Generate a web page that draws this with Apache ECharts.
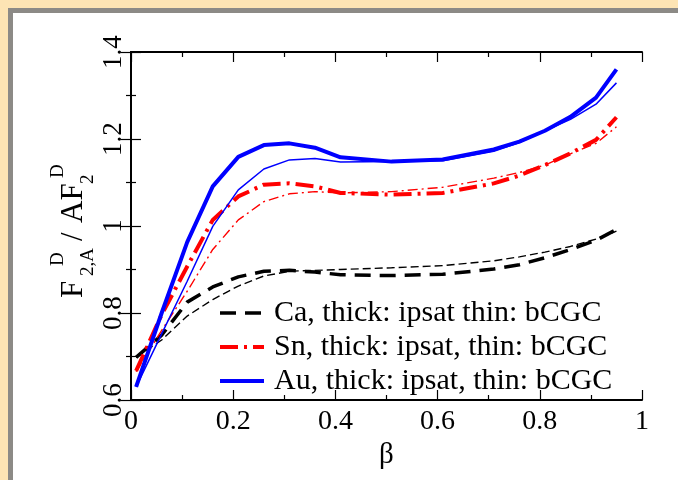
<!DOCTYPE html>
<html>
<head>
<meta charset="utf-8">
<script src="https://cdn.jsdelivr.net/npm/echarts@6/dist/echarts.min.js"></script>
<style>
html,body{margin:0;padding:0;background:#FDE4B4;}
#chart{width:678px;height:480px;}
</style>
</head>
<body>
<div id="chart"></div>
<script>
// beta sample points
const beta = [0.01, 0.06, 0.11, 0.16, 0.21, 0.26, 0.31, 0.36, 0.41, 0.51, 0.61, 0.71, 0.76, 0.81, 0.86, 0.91, 0.95];
// Ca
const caIpsat = [0.698, 0.749, 0.825, 0.860, 0.883, 0.896, 0.898, 0.894, 0.888, 0.886, 0.889, 0.901, 0.911, 0.927, 0.946, 0.967, 0.992];
const caBCGC  = [0.698, 0.738, 0.793, 0.831, 0.862, 0.885, 0.896, 0.898, 0.900, 0.904, 0.909, 0.920, 0.929, 0.940, 0.953, 0.970, 0.988];
// Sn
const snIpsat = [0.667, 0.796, 0.907, 1.014, 1.068, 1.095, 1.098, 1.091, 1.076, 1.072, 1.076, 1.098, 1.116, 1.140, 1.167, 1.198, 1.250];
const snBCGC  = [0.665, 0.760, 0.850, 0.946, 1.014, 1.056, 1.074, 1.079, 1.076, 1.079, 1.089, 1.110, 1.123, 1.140, 1.166, 1.190, 1.228];
// Au
const auIpsat = [0.630, 0.800, 0.963, 1.091, 1.159, 1.186, 1.190, 1.180, 1.158, 1.148, 1.153, 1.176, 1.194, 1.219, 1.251, 1.295, 1.360];
const auBCGC  = [0.630, 0.752, 0.873, 0.999, 1.083, 1.131, 1.152, 1.155, 1.147, 1.148, 1.150, 1.172, 1.192, 1.219, 1.245, 1.280, 1.329];

const legendNames = ['Ca, thick: ipsat thin: bCGC', 'Sn, thick: ipsat, thin: bCGC', 'Au, thick: ipsat, thin: bCGC'];

const SERIF = "'Liberation Serif','DejaVu Serif',serif";
const pairs = ys => beta.map((b, i) => [b, ys[i]]);

function line(name, ys, color, width, type) {
  return {
    name: name, type: 'line', data: pairs(ys), symbol: 'none', smooth: false,
    lineStyle: {color: color, width: width, type: type},
    itemStyle: {color: color},
    emphasis: {disabled: true}, silent: true, animation: false
  };
}

function axisStyle() {
  return {
    axisLine: {lineStyle: {color: '#000', width: 2}},
    axisTick: {show: true, inside: true, length: 10, lineStyle: {color: '#000', width: 1.2}},
    minorTick: {show: true, splitNumber: 2, length: 5, lineStyle: {color: '#000', width: 1.2}},
    splitLine: {show: false},
    minorSplitLine: {show: false}
  };
}

const chart = echarts.init(document.getElementById('chart'), null, {renderer: 'canvas'});
chart.setOption({
  backgroundColor: '#FDE4B4',
  animation: false,
  grid: {left: 131, right: 36, top: 52, bottom: 80},
  xAxis: [
    Object.assign(axisStyle(), {
      type: 'value', min: 0, max: 1, interval: 0.2, position: 'bottom',
      name: 'β', nameLocation: 'middle', nameGap: 27,
      nameTextStyle: {fontFamily: SERIF, fontSize: 29, color: '#000'},
      axisLabel: {fontFamily: SERIF, fontSize: 28, color: '#000', margin: 8}
    }),
    Object.assign(axisStyle(), {
      type: 'value', min: 0, max: 1, interval: 0.2, position: 'top',
      axisLabel: {show: false}
    })
  ],
  yAxis: [
    Object.assign(axisStyle(), {
      type: 'value', min: 0.6, max: 1.4, interval: 0.2, position: 'left',
      axisLabel: {fontFamily: SERIF, fontSize: 27, color: '#000', rotate: 90, margin: 4}
    }),
    Object.assign(axisStyle(), {
      type: 'value', min: 0.6, max: 1.4, interval: 0.2, position: 'right',
      axisLabel: {show: false}
    })
  ],
  legend: {
    data: legendNames,
    orient: 'vertical',
    left: 218, top: 298,
    padding: 0,
    itemWidth: 44, itemHeight: 14, itemGap: 4,
    itemStyle: {opacity: 0},
    lineStyle: {width: 'inherit', type: 'inherit'},
    textStyle: {fontFamily: SERIF, fontSize: 30, color: '#000', padding: [0, 0, 0, 5], lineHeight: 28},
    selectedMode: false
  },
  graphic: [
    {type: 'rect', z: -10, silent: true, shape: {x: 8, y: 8, width: 700, height: 500}, style: {fill: '#8C8A86'}},
    {type: 'rect', z: -9, silent: true, shape: {x: 13, y: 13, width: 700, height: 500}, style: {fill: '#FFFFFF'}},
    {
      type: 'group', x: 85, y: 298, rotation: Math.PI / 2, silent: true,
      children: [
        {type: 'text', x: 0, y: -11, style: {text: 'F', fontFamily: SERIF, fontSize: 31, fill: '#000', align: 'left', verticalAlign: 'middle'}},
        {type: 'text', x: 22, y: 3, style: {text: '2,A', fontFamily: SERIF, fontSize: 19, fill: '#000', align: 'left', verticalAlign: 'middle'}},
        {type: 'text', x: 32, y: -27, style: {text: 'D', fontFamily: SERIF, fontSize: 19, fill: '#000', align: 'left', verticalAlign: 'middle'}},
        {type: 'text', x: 57, y: -11, style: {text: '/', fontFamily: SERIF, fontSize: 31, fill: '#000', align: 'left', verticalAlign: 'middle'}},
        {type: 'text', x: 75, y: -11, style: {text: 'AF', fontFamily: SERIF, fontSize: 31, fill: '#000', align: 'left', verticalAlign: 'middle'}},
        {type: 'text', x: 114, y: 3, style: {text: '2', fontFamily: SERIF, fontSize: 19, fill: '#000', align: 'left', verticalAlign: 'middle'}},
        {type: 'text', x: 120, y: -27, style: {text: 'D', fontFamily: SERIF, fontSize: 19, fill: '#000', align: 'left', verticalAlign: 'middle'}}
      ]
    }
  ],
  series: [
    line(legendNames[0], caIpsat, '#000000', 3.5, [16, 9]),
    line('Ca bCGC', caBCGC, '#000000', 1.4, [8, 4]),
    line(legendNames[1], snIpsat, '#FF0000', 4, [18, 6, 3, 6]),
    line('Sn bCGC', snBCGC, '#FF0000', 1.4, [10, 4, 2, 4]),
    line(legendNames[2], auIpsat, '#0000FF', 4, 'solid'),
    line('Au bCGC', auBCGC, '#0000FF', 1.5, 'solid')
  ]
});
</script>
</body>
</html>
